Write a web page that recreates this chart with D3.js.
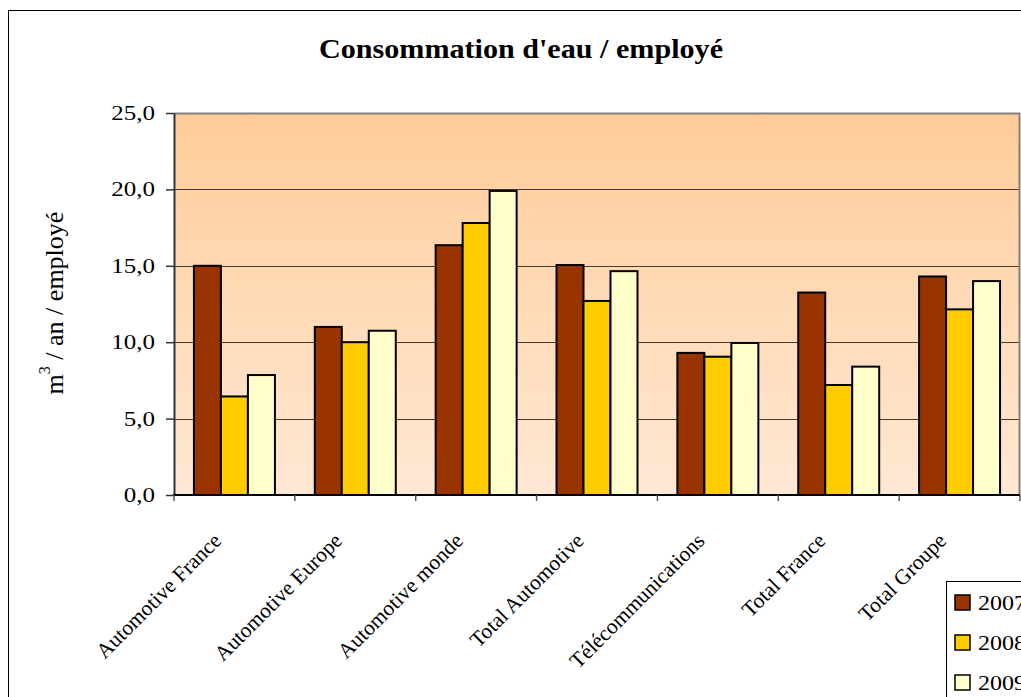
<!DOCTYPE html>
<html>
<head>
<meta charset="utf-8">
<script src="https://cdn.jsdelivr.net/npm/d3@7"></script>
<style>
  html, body { margin: 0; padding: 0; background: #fff; }
  svg { display: block; font-family: "Liberation Serif", "Times New Roman", serif; }
</style>
</head>
<body>
<svg id="chart" width="1021" height="697"></svg>
<script>
const categories = ["Automotive France", "Automotive Europe", "Automotive monde", "Total Automotive", "Télécommunications", "Total France", "Total Groupe"];
const seriesNames = ["2007", "2008", "2009"];
const values2007 = [15.0, 11.0, 16.35, 15.05, 9.3, 13.25, 14.3];
const values2008 = [6.45, 10.0, 17.8, 12.7, 9.05, 7.2, 12.15];
const values2009 = [7.85, 10.75, 19.9, 14.65, 9.95, 8.4, 14.0];
const seriesColors = ["#993300", "#FFCC00", "#FFFFCC"];
const yTicks = [0, 5, 10, 15, 20, 25];
const titleText = "Consommation d'eau / employé";

const seriesValues = [values2007, values2008, values2009];
const svg = d3.select("#chart");
const W = 1021, H = 697;
const plot = { left: 174, right: 1020, top: 113, bottom: 495 };

svg.append("rect").attr("width", W).attr("height", H).attr("fill", "#fff");
// outer chart border
svg.append("rect").attr("x", 8.5).attr("y", 10.5).attr("width", 1100).attr("height", 1000)
  .attr("fill", "none").attr("stroke", "#000").attr("stroke-width", 1);

// gradient
const defs = svg.append("defs");
const grad = defs.append("linearGradient").attr("id", "bg").attr("x1", 0).attr("y1", 0).attr("x2", 0).attr("y2", 1);
grad.append("stop").attr("offset", "0%").attr("stop-color", "#FFCC99");
grad.append("stop").attr("offset", "100%").attr("stop-color", "#FFE8D4");

svg.append("rect").attr("x", plot.left).attr("y", plot.top)
  .attr("width", plot.right - plot.left).attr("height", plot.bottom - plot.top)
  .attr("fill", "url(#bg)");

const y = d3.scaleLinear().domain([0, 25]).range([plot.bottom, plot.top]);
const x = d3.scaleBand().domain(categories).range([plot.left, plot.right]).paddingInner(0).paddingOuter(0);
const step = x.bandwidth();
const gap = step * 0.165;
const x1 = d3.scaleBand().domain(seriesNames).range([gap, step - gap]).padding(0);

// gridlines
svg.append("g").selectAll("line").data(yTicks.filter(t => t > 0 && t < 25)).join("line")
  .attr("x1", plot.left).attr("x2", plot.right)
  .attr("y1", d => Math.round(y(d)) + 0.5).attr("y2", d => Math.round(y(d)) + 0.5)
  .attr("stroke", "#4a3a30").attr("stroke-width", 1);

// plot border top/right
svg.append("path")
  .attr("d", `M${plot.left},${plot.top + 0.5}H${plot.right - 0.5}V${plot.bottom}`)
  .attr("fill", "none").attr("stroke", "#808080").attr("stroke-width", 2);

// bars
const groups = svg.append("g").selectAll("g").data(categories).join("g")
  .attr("transform", d => `translate(${x(d)},0)`);
groups.selectAll("rect").data((d, i) => seriesNames.map((s, j) => ({ s, j, v: seriesValues[j][i] }))).join("rect")
  .attr("x", d => x1(d.s))
  .attr("y", d => y(d.v))
  .attr("width", x1.bandwidth())
  .attr("height", d => plot.bottom - y(d.v))
  .attr("fill", d => seriesColors[d.j])
  .attr("stroke", "#000").attr("stroke-width", 2);

// y axis
const yAxis = svg.append("g").attr("transform", `translate(${plot.left},0)`)
  .call(d3.axisLeft(y).tickValues(yTicks).tickSize(8).tickSizeOuter(0).tickPadding(4)
    .tickFormat(d => d3.format(".1f")(d).replace(".", ",")));
yAxis.select(".domain").attr("stroke", "#333").attr("stroke-width", 2);
yAxis.selectAll(".tick line").attr("stroke", "#333").attr("stroke-width", 1.5);
yAxis.selectAll(".tick text")
  .attr("font-family", "Liberation Serif, Times New Roman, serif")
  .attr("font-size", 20).attr("fill", "#000")
  .attr("transform", "scale(1.25,1)").attr("x", -15.2);

// x axis line
svg.append("line").attr("x1", plot.left - 1).attr("x2", plot.right).attr("y1", plot.bottom).attr("y2", plot.bottom)
  .attr("stroke", "#000").attr("stroke-width", 2);
// category boundary ticks
svg.append("g").selectAll("line").data(d3.range(categories.length + 1)).join("line")
  .attr("x1", i => plot.left + i * step).attr("x2", i => plot.left + i * step)
  .attr("y1", plot.bottom).attr("y2", plot.bottom + 6)
  .attr("stroke", "#555").attr("stroke-width", 1.5);

// x labels
const xAxis = svg.append("g").attr("transform", `translate(0,${plot.bottom})`)
  .call(d3.axisBottom(x).tickSize(0).tickSizeOuter(0));
xAxis.select(".domain").remove();
xAxis.selectAll(".tick text")
  .attr("font-family", "Liberation Serif, Times New Roman, serif")
  .attr("font-size", 21.5).attr("fill", "#000")
  .attr("text-anchor", "end")
  .attr("y", 0).attr("dy", 0)
  .attr("transform", "translate(-12,47) rotate(-45)");

// title
svg.append("text").attr("x", 521).attr("y", 58).attr("text-anchor", "middle")
  .attr("font-size", 27).attr("font-weight", "bold")
  .attr("textLength", 404).attr("lengthAdjust", "spacingAndGlyphs")
  .text(titleText);

// y title
const yt = svg.append("text").attr("transform", "translate(63,303) rotate(-90)")
  .attr("text-anchor", "middle").attr("font-size", 26);
yt.append("tspan").text("m");
yt.append("tspan").attr("font-size", 16).attr("dy", -13).text("3");
yt.append("tspan").attr("dy", 13).text(" / an / employé");

// legend
const lg = svg.append("g");
lg.append("rect").attr("x", 946.5).attr("y", 581.5).attr("width", 200).attr("height", 200)
  .attr("fill", "#fff").attr("stroke", "#000").attr("stroke-width", 1);
const items = lg.selectAll("g.item").data(seriesNames).join("g").attr("class", "item")
  .attr("transform", (d, i) => `translate(955,${595 + i * 40})`);
items.append("rect").attr("width", 15).attr("height", 15)
  .attr("fill", (d, i) => seriesColors[i]).attr("stroke", "#000").attr("stroke-width", 1.5);
items.append("text").attr("x", 23).attr("y", 15).attr("font-size", 20)
  .attr("transform", "translate(23,0) scale(1.2,1) translate(-23,0)")
  .text(d => d);
</script>
</body>
</html>
